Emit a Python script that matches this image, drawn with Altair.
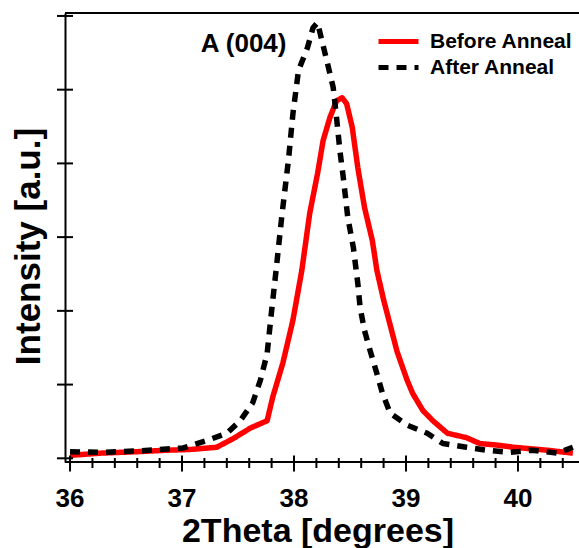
import altair as alt
import pandas as pd

# ---- data ----
red_x = [36.00, 36.27, 36.60, 36.87, 37.07, 37.31, 37.46, 37.61, 37.76, 37.81, 37.90, 37.99,
         38.07, 38.14, 38.21, 38.26, 38.32, 38.38, 38.43, 38.47, 38.52, 38.57, 38.63, 38.70,
         38.74, 38.80, 38.86, 38.92, 39.01, 39.06, 39.15, 39.24, 39.37, 39.54, 39.66, 39.81,
         39.96, 40.26, 40.49]
red_y = [0.04, 0.07, 0.09, 0.11, 0.12, 0.15, 0.27, 0.41, 0.51, 0.83, 1.29, 1.87,
         2.55, 3.32, 3.86, 4.31, 4.62, 4.85, 4.89, 4.81, 4.49, 3.94, 3.40, 2.95,
         2.55, 2.15, 1.80, 1.45, 1.06, 0.88, 0.65, 0.51, 0.34, 0.28, 0.20, 0.18,
         0.15, 0.11, 0.07]

black_x = [36.00, 36.30, 36.60, 37.01, 37.22, 37.40, 37.52, 37.63, 37.70, 37.76, 37.80, 37.84,
           37.89, 37.95, 37.99, 38.04, 38.12, 38.17, 38.21, 38.25, 38.30, 38.35, 38.38, 38.41,
           38.44, 38.48, 38.53, 38.57, 38.59, 38.63, 38.68, 38.74, 38.79, 38.86, 39.01, 39.19,
           39.33, 39.54, 39.72, 39.93, 40.13, 40.35, 40.49]
black_y = [0.09, 0.08, 0.10, 0.14, 0.24, 0.34, 0.51, 0.75, 1.06, 1.42, 2.00, 2.55,
           3.27, 4.04, 4.67, 5.26, 5.57, 5.84, 5.91, 5.66, 5.35, 5.03, 4.62, 4.17,
           3.81, 3.27, 2.86, 2.37, 2.05, 1.73, 1.46, 1.15, 0.88, 0.61, 0.45, 0.34,
           0.20, 0.15, 0.11, 0.08, 0.11, 0.07, 0.15]

series_names = ["Before Anneal", "After Anneal"]
series_colors = ["#ff0000", "#000000"]
series_dash = [[1, 0], [10, 8]]

x_major_ticks = [36, 37, 38, 39, 40]
x_tick_labels = ["36", "37", "38", "39", "40"]
x_minor_ticks = [36.2, 36.4, 36.6, 36.8, 37.2, 37.4, 37.6, 37.8, 38.2, 38.4, 38.6, 38.8,
                 39.2, 39.4, 39.6, 39.8, 40.2, 40.4]
y_major_ticks = [0, 1, 2, 3, 4, 5, 6]

x_title = ["2Theta [degrees]"]
Y_T = "Intensity [a.u.]"

annot_text = ["A (004)"]
annot_x = [37.55]
annot_y = [5.62]

# ---- layout ----
W, H = 514, 449
X_DOM = [35.955, 40.545]
Y_DOM = [-0.05, 6.04]
FONT = "Liberation Sans"

df = pd.concat([
    pd.DataFrame({"theta": red_x, "intensity": red_y, "series": series_names[0]}),
    pd.DataFrame({"theta": black_x, "intensity": black_y, "series": series_names[1]}),
], ignore_index=True)

x_scale = alt.Scale(domain=X_DOM, nice=False, zero=False)
y_scale = alt.Scale(domain=Y_DOM, nice=False, zero=False)

x_axis_quiet = alt.Axis(labels=False, ticks=False, domain=False, grid=False, title=None)
y_axis = alt.Axis(title=Y_T, labels=False, ticks=False, tickSize=0,
                  grid=False, domainWidth=2, domainColor="black",
                  titleFont=FONT, titleFontSize=35, titleFontWeight="bold",
                  titleColor="black", titleX=-26, titleY=233,
                  titleBaseline="alphabetic")

legend = alt.Legend(
    title=None, orient="none", legendX=323, legendY=18,
    symbolType="M-2.5,0H2.5", symbolSize=256, symbolStrokeWidth=5,
    labelFont=FONT, labelFontSize=21, labelFontWeight="bold", labelColor="black",
    labelOffset=21, rowPadding=4, padding=0,
)

lines = alt.Chart(df).mark_line(strokeWidth=5.5, strokeCap="butt", strokeJoin="round").encode(
    x=alt.X("theta:Q", scale=x_scale, axis=x_axis_quiet),
    y=alt.Y("intensity:Q", scale=y_scale, axis=y_axis, title=Y_T),
    color=alt.Color("series:N", scale=alt.Scale(domain=series_names, range=series_colors),
                    legend=legend),
    strokeDash=alt.StrokeDash("series:N", scale=alt.Scale(domain=series_names, range=series_dash),
                              legend=legend),
)

top_rule = alt.Chart(pd.DataFrame({"a": [0]})).mark_rule(strokeWidth=2, color="black").encode(
    x=alt.value(0), x2=alt.value(W), y=alt.value(0))

xmaj = alt.Chart(pd.DataFrame({"xt": x_major_ticks})).mark_rule(
    strokeWidth=2, color="black").encode(
    x=alt.X("xt:Q", scale=x_scale, axis=None),
    y=alt.value(H - 6.5), y2=alt.value(H + 9.5))
xmin = alt.Chart(pd.DataFrame({"xm": x_minor_ticks})).mark_rule(
    strokeWidth=2, color="black").encode(
    x=alt.X("xm:Q", scale=x_scale, axis=None),
    y=alt.value(H - 4), y2=alt.value(H + 6))
ymaj = alt.Chart(pd.DataFrame({"v": y_major_ticks})).mark_rule(
    strokeWidth=2, color="black").encode(
    y=alt.Y("v:Q", scale=y_scale, axis=y_axis, title=Y_T),
    x=alt.value(-8), x2=alt.value(8))

annot = alt.Chart(pd.DataFrame({"ax": annot_x, "intensity": annot_y, "label": annot_text})).mark_text(
    font=FONT, fontSize=26, fontWeight="bold", color="black", align="center", baseline="middle").encode(
    x=alt.X("ax:Q", scale=x_scale, axis=None),
    y=alt.Y("intensity:Q", scale=y_scale, axis=y_axis, title=Y_T),
    text="label:N")

# x axis line, tick labels and title
x_domain = alt.Chart(pd.DataFrame({"d": [0]})).mark_rule(strokeWidth=2, color="black").encode(
    x=alt.value(0), x2=alt.value(W), y=alt.value(H))
xlabels = alt.Chart(pd.DataFrame({"xl": x_major_ticks, "lab": x_tick_labels})).mark_text(
    font=FONT, fontSize=26, fontWeight="bold", color="black", align="center", baseline="top").encode(
    x=alt.X("xl:Q", scale=x_scale, axis=None), y=alt.value(H + 24), text="lab:N")
xtitle = alt.Chart(pd.DataFrame({"tt": x_title})).mark_text(
    font=FONT, fontSize=34, fontWeight="bold", color="black", align="center",
    baseline="alphabetic").encode(
    x=alt.value(253), y=alt.value(H + 80), text="tt:N")

chart = alt.layer(lines, top_rule, xmaj, xmin, ymaj, annot, x_domain, xlabels, xtitle).properties(
    width=W, height=H,
    padding={"left": 65, "top": 13, "right": 0, "bottom": 86},
    autosize="none",
).configure_view(stroke=None).configure(background="white")

chart.save("out.html", embed_options={"renderer": "svg", "actions": False})
